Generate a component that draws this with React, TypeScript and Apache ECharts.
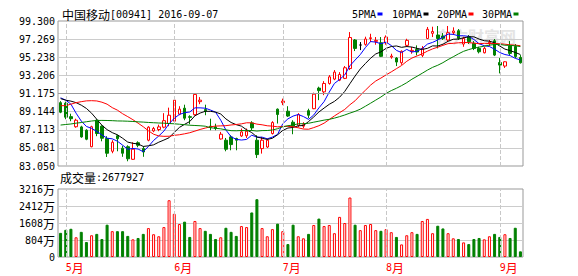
import React, { useEffect, useRef } from "react";
import * as echarts from "echarts";

const dates = [
  "2016-04-29",
  "2016-05-03", "2016-05-04", "2016-05-05", "2016-05-06",
  "2016-05-09", "2016-05-10", "2016-05-11", "2016-05-12", "2016-05-13",
  "2016-05-16", "2016-05-17", "2016-05-18", "2016-05-19", "2016-05-20",
  "2016-05-23", "2016-05-24", "2016-05-25", "2016-05-26", "2016-05-27",
  "2016-05-30", "2016-05-31",
  "2016-06-01", "2016-06-02", "2016-06-03",
  "2016-06-06", "2016-06-07", "2016-06-08", "2016-06-10",
  "2016-06-13", "2016-06-14", "2016-06-15", "2016-06-16", "2016-06-17",
  "2016-06-20", "2016-06-21", "2016-06-22", "2016-06-23", "2016-06-24",
  "2016-06-27", "2016-06-28", "2016-06-29", "2016-06-30",
  "2016-07-04", "2016-07-05", "2016-07-06", "2016-07-07", "2016-07-08",
  "2016-07-11", "2016-07-12", "2016-07-13", "2016-07-14", "2016-07-15",
  "2016-07-18", "2016-07-19", "2016-07-20", "2016-07-21", "2016-07-22",
  "2016-07-25", "2016-07-26", "2016-07-27", "2016-07-28", "2016-07-29",
  "2016-08-01", "2016-08-03", "2016-08-04", "2016-08-05",
  "2016-08-08", "2016-08-09", "2016-08-10", "2016-08-11", "2016-08-12",
  "2016-08-15", "2016-08-16", "2016-08-17", "2016-08-18", "2016-08-19",
  "2016-08-22", "2016-08-23", "2016-08-24", "2016-08-25", "2016-08-26",
  "2016-08-29", "2016-08-30", "2016-08-31",
  "2016-09-01", "2016-09-02", "2016-09-05", "2016-09-06", "2016-09-07",
];

const opens = [
  90.15, 90.09, 88.58, 87.45, 87.43, 87.06, 85.21, 88.18, 87.51, 86.13,
  84.70, 86.44, 85.04, 85.21, 83.80, 85.66, 85.00, 85.94, 86.98, 87.14,
  87.40, 87.81, 88.07, 88.86, 89.53, 88.58, 88.80, 90.26, 89.38, 87.51,
  87.43, 86.08, 85.94, 86.31, 86.13, 86.42, 86.44, 87.88, 85.94, 85.00,
  85.18, 86.69, 89.42, 90.15, 89.19, 87.96, 87.62, 87.51, 89.25, 89.47,
  91.78, 91.36, 92.30, 92.79, 92.67, 92.87, 93.97, 97.17, 96.61, 96.68,
  97.34, 97.02, 96.86, 96.86, 95.26, 95.15, 94.62, 96.57, 95.90, 96.12,
  95.45, 97.34, 97.92, 97.73, 97.62, 97.17, 97.99, 98.21, 96.72, 97.54,
  96.80, 96.23, 95.74, 96.83, 97.09, 94.64, 94.25, 96.49, 96.44, 95.22,
];
const closes = [
  89.08, 88.52, 88.35, 88.18, 86.31, 86.05, 87.45, 86.69, 86.16, 84.48,
  85.71, 86.11, 84.48, 83.86, 84.93, 85.37, 84.62, 87.40, 87.25, 87.43,
  88.13, 88.74, 90.43, 89.42, 88.41, 88.50, 91.07, 90.43, 89.23, 87.40,
  87.25, 86.61, 84.93, 85.45, 85.94, 86.87, 86.95, 87.32, 84.33, 85.94,
  85.94, 87.92, 88.82, 90.32, 88.65, 87.51, 88.80, 87.68, 88.74, 91.10,
  91.50, 92.30, 93.04, 93.57, 93.31, 94.06, 97.45, 96.23, 96.61, 97.28,
  97.42, 97.13, 95.34, 97.50, 95.37, 94.70, 95.90, 97.13, 96.01, 95.82,
  96.21, 98.37, 98.12, 97.34, 97.36, 97.99, 98.18, 97.36, 97.36, 96.98,
  96.23, 95.85, 96.23, 96.91, 95.48, 94.36, 94.73, 95.67, 95.31, 94.62,
];
const lows = [
  88.97, 88.29, 88.07, 87.34, 86.22, 85.94, 85.15, 86.39, 85.82, 84.06,
  84.48, 84.70, 84.08, 83.58, 83.75, 85.15, 84.08, 85.82, 86.84, 86.95,
  87.28, 87.51, 87.96, 88.74, 88.18, 87.73, 88.69, 89.98, 88.74, 87.06,
  87.06, 86.01, 84.70, 84.81, 84.81, 86.31, 86.19, 87.06, 83.95, 84.44,
  85.07, 86.58, 87.81, 89.87, 88.55, 86.61, 87.40, 87.28, 88.41, 89.42,
  90.43, 90.99, 92.17, 92.67, 92.56, 92.79, 93.80, 95.93, 96.04, 96.53,
  96.94, 96.64, 95.26, 96.64, 95.07, 94.25, 94.39, 96.38, 95.63, 95.45,
  95.26, 97.28, 97.50, 96.23, 97.17, 96.98, 97.73, 97.17, 96.41, 96.72,
  96.04, 95.67, 95.67, 96.49, 95.37, 93.43, 94.04, 95.48, 95.15, 94.53,
];
const highs = [
  90.32, 90.26, 88.91, 88.35, 87.56, 87.17, 87.56, 88.29, 87.62, 86.39,
  85.94, 86.55, 85.32, 85.37, 85.71, 85.82, 85.26, 87.51, 87.43, 87.68,
  88.97, 89.59, 90.49, 89.75, 89.92, 88.74, 91.10, 90.77, 89.92, 88.35,
  87.79, 86.87, 86.19, 86.50, 86.22, 87.25, 87.25, 88.07, 86.50, 86.31,
  86.13, 88.07, 89.50, 90.60, 89.75, 88.18, 88.97, 87.96, 89.47, 91.27,
  91.94, 92.56, 93.24, 93.80, 93.57, 94.25, 98.06, 97.28, 96.94, 97.54,
  97.87, 97.50, 97.50, 97.69, 95.63, 95.26, 96.01, 97.31, 96.38, 96.57,
  96.49, 98.63, 98.66, 98.74, 97.95, 98.74, 98.59, 98.40, 97.54, 97.73,
  97.05, 96.41, 96.41, 97.17, 97.28, 95.15, 94.78, 97.05, 96.72, 95.48,
];

// volume in 万 (10,000 shares)
const volumes = [
  1142, 1286, 1335, 933, 1190, 708, 1029, 1093, 852, 1528,
  1222, 1222, 1222, 997, 836, 900, 1093, 1367, 1077, 981,
  1415, 2685, 2042, 1560, 1672, 949, 1704, 1367, 1238, 1093,
  852, 933, 1383, 1190, 997, 1463, 1415, 2107, 2734, 1367,
  981, 1319, 1576, 1222, 611, 1528, 981, 884, 1093, 1512,
  1817, 1463, 1512, 1126, 1897, 1608, 2814, 1528, 1270, 1512,
  1560, 1270, 1238, 1319, 1174, 949, 595, 1029, 1174, 1093,
  1704, 1801, 1126, 1479, 1351, 1126, 884, 852, 691, 611,
  852, 900, 836, 981, 1093, 949, 1077, 900, 1383, 268,
];

// moving-average values before enough closes are on the chart
const ma5Head = [90.69, 90.43, 89.98, 88.97];
const ma10Head = [90.6, 90.43, 90.32, 90.15, 89.87, 89.5, 88.97, 88.29, 87.62];
const ma20Head = [
  89.81, 89.81, 89.98, 90.15, 90.26, 90.35, 90.37, 90.34, 90.2, 89.98,
  89.59, 89.31, 88.91, 88.58, 88.24, 87.85, 87.45, 87.0, 86.61,
];
const ma30Head = [
  87.64, 87.7, 87.76, 87.85, 87.92, 88.01, 88.09, 88.15, 88.16, 88.15,
  88.13, 88.1, 88.09, 88.07, 88.04, 88.0, 87.97, 87.93, 87.9, 87.87,
  87.85, 87.81, 87.78, 87.73, 87.68, 87.62, 87.59, 87.56, 87.51,
];

const priceTickLabels = [
  "83.050", "85.081", "87.113", "89.144", "91.175", "93.206", "95.238", "97.269", "99.300",
];
const volTickLabels = ["0", "804", "1608", "2412", "3216"];
const monthStarts = [1, 22, 43, 63, 85];
const titleName = "中国移动";
const titleCode = "[00941] 2016-09-07";
const volumeCaption = "成交量";
const lastVolume = "2677927";
const maNames = ["5PMA", "10PMA", "20PMA", "30PMA"];

const RED = "#ff0000";
const GREEN = "#008000";
const MA_COLORS = ["#0000ff", "#000000", "#ff0000", "#008000"];
const MONO = "'DejaVu Sans Mono', monospace";
const CJK = "'Noto Sans CJK SC', sans-serif";

function movingAverage(head: number[], period: number): number[] {
  return closes.map((_, i) => {
    if (i < period - 1) return head[i];
    let s = 0;
    for (let j = i - period + 1; j <= i; j++) s += closes[j];
    return +(s / period).toFixed(3);
  });
}

export default function App() {
  const ref = useRef<HTMLDivElement>(null);
  useEffect(() => {
    if (!ref.current) return;
    const chart = echarts.init(ref.current, undefined, { renderer: "svg" });

    const candleData = dates.map((_, i) => {
      const v = [opens[i], closes[i], lows[i], highs[i]];
      if (opens[i] === closes[i]) {
        return {
          value: v,
          itemStyle: { color: "#000", color0: "#000", borderColor: "#000", borderColor0: "#000" },
        };
      }
      return v;
    });
    const volData = dates.map((_, i) => {
      const up = closes[i] >= opens[i];
      return {
        value: volumes[i],
        itemStyle: { color: up ? "#fff" : GREEN, borderColor: up ? RED : GREEN, borderWidth: 1 },
      };
    });
    const mas = [
      movingAverage(ma5Head, 5),
      movingAverage(ma10Head, 10),
      movingAverage(ma20Head, 20),
      movingAverage(ma30Head, 30),
    ];

    const dashed = monthStarts.map((i) => ({
      xAxis: dates[i],
      lineStyle: { type: [4, 2], color: "#c8c8c8", width: 1 },
    }));

    const legendX = [352, 392, 437, 482];
    const graphic: any[] = [
      {
        type: "text",
        x: 516,
        y: 36,
        z: 0,
        silent: true,
        style: {
          text: "东方财富网",
          font: `bold 16px ${CJK}`,
          fill: "#e4e4e4",
          align: "right",
          verticalAlign: "middle",
        },
      },
      {
        type: "text",
        x: 62,
        y: 14,
        style: {
          text: `{c|${titleName}}{a|${titleCode}}`,
          verticalAlign: "middle",
          rich: {
            c: { fontFamily: CJK, fontSize: 12, fill: "#000", color: "#000" },
            a: { fontFamily: MONO, fontSize: 10, fill: "#000", color: "#000" },
          },
        },
      },
      {
        type: "text",
        x: 60,
        y: 177,
        style: {
          text: `{c|${volumeCaption}}{a|:${lastVolume}}`,
          verticalAlign: "middle",
          rich: {
            c: { fontFamily: CJK, fontSize: 12, fill: "#000", color: "#000" },
            a: { fontFamily: MONO, fontSize: 10, fill: "#000", color: "#000" },
          },
        },
      },
    ];
    maNames.forEach((name, i) => {
      graphic.push({
        type: "text",
        x: legendX[i],
        y: 14,
        style: { text: name, font: `10px ${MONO}`, fill: "#000", verticalAlign: "middle" },
      });
      graphic.push({
        type: "rect",
        shape: { x: legendX[i] + name.length * 6 + 1.5, y: 12.5, width: 5, height: 3 },
        style: { fill: MA_COLORS[i] },
      });
    });

    const option: any = {
      animation: false,
      backgroundColor: "#fff",
      graphic,
      grid: [
        { left: 58, top: 21, width: 465, height: 145, show: true, borderColor: "#999", borderWidth: 1, backgroundColor: "transparent" },
        { left: 58, top: 189, width: 465, height: 68, show: true, borderColor: "#999", borderWidth: 1, backgroundColor: "transparent" },
      ],
      xAxis: [
        {
          type: "category",
          gridIndex: 0,
          data: dates,
          boundaryGap: true,
          axisLine: { show: false },
          axisTick: { show: false },
          axisLabel: { show: false },
          splitLine: { show: false },
        },
        {
          type: "category",
          gridIndex: 1,
          data: dates,
          boundaryGap: true,
          axisLine: { show: false },
          axisTick: { show: false },
          splitLine: { show: false },
          axisLabel: {
            show: true,
            interval: (i: number) => monthStarts.includes(i),
            formatter: (v: string) => `{n|${parseInt(v.slice(5, 7), 10)}}{w|月}`,
            align: "left",
            margin: 4,
            rich: {
              n: { fontFamily: MONO, fontSize: 10, color: RED, lineHeight: 12 },
              w: { fontFamily: CJK, fontSize: 12, color: RED, lineHeight: 12 },
            },
          },
        },
      ],
      yAxis: [
        { type: "value", gridIndex: 0, position: "left", min: 83.05, max: 99.3, show: false, scale: true },
        {
          type: "value",
          gridIndex: 0,
          position: "left",
          min: 0,
          max: 8,
          interval: 1,
          axisLine: { show: false },
          axisTick: { show: false },
          axisLabel: {
            formatter: (v: number) => priceTickLabels[Math.round(v)],
            fontFamily: MONO,
            fontSize: 10,
            color: "#000",
            margin: 3,
          },
          splitLine: { show: true, showMinLine: false, showMaxLine: false, lineStyle: { color: "#cccccc", width: 1 } },
        },
        {
          type: "value",
          gridIndex: 1,
          position: "left",
          min: 0,
          max: 3216,
          interval: 804,
          axisLine: { show: false },
          axisTick: { show: false },
          axisLabel: {
            formatter: (v: number) => {
              const t = volTickLabels[Math.round(v / 804)];
              return t === "0" ? `{n|0}` : `{n|${t}}{w|万}`;
            },
            margin: 3,
            rich: {
              n: { fontFamily: MONO, fontSize: 10, color: "#000" },
              w: { fontFamily: CJK, fontSize: 12, color: "#000" },
            },
          },
          splitLine: { show: true, showMinLine: false, showMaxLine: false, lineStyle: { color: "#cccccc", width: 1 } },
        },
      ],
      series: [
        {
          type: "candlestick",
          xAxisIndex: 0,
          yAxisIndex: 0,
          barWidth: 3,
          data: candleData,
          itemStyle: { color: "#fff", color0: GREEN, borderColor: RED, borderColor0: GREEN, borderWidth: 1 },
          markLine: {
            silent: true,
            symbol: ["none", "none"],
            label: { show: false },
            animation: false,
            data: [
              ...dashed,
              { yAxis: 91.175, lineStyle: { type: "solid", color: "#999", width: 1 } },
            ],
          },
          z: 2,
        },
        ...mas.map((d, i) => ({
          type: "line",
          name: maNames[i],
          xAxisIndex: 0,
          yAxisIndex: 0,
          data: d,
          symbol: "none",
          showSymbol: false,
          lineStyle: { color: MA_COLORS[i], width: 1 },
          itemStyle: { color: MA_COLORS[i] },
          z: 3,
        })),
        {
          type: "bar",
          xAxisIndex: 1,
          yAxisIndex: 2,
          barWidth: 3,
          data: volData,
          markLine: {
            silent: true,
            symbol: ["none", "none"],
            label: { show: false },
            animation: false,
            data: dashed,
          },
        },
      ],
    };
    chart.setOption(option);
    return () => chart.dispose();
  }, []);
  return (
    <div
      ref={ref}
      style={{ position: "absolute", left: 0, top: 0, width: 578, height: 276, background: "#fff" }}
    />
  );
}
